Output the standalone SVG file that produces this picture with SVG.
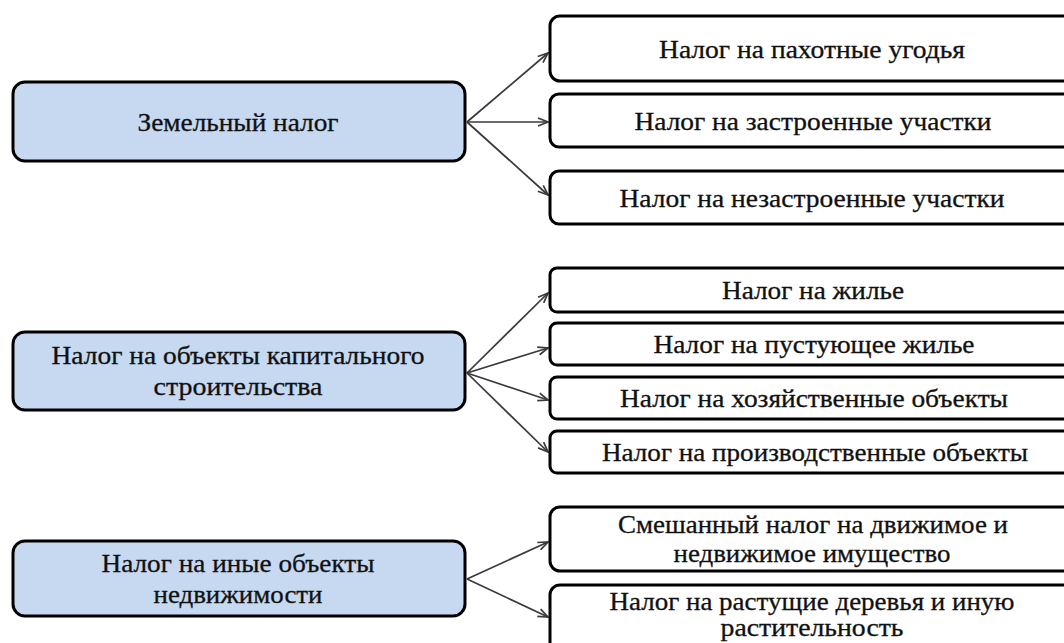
<svg xmlns="http://www.w3.org/2000/svg" width="1064" height="643" viewBox="0 0 1064 643">
<style>
.main{fill:#C6D9F1;stroke:#000;stroke-width:3}
.sub{fill:#fff;stroke:#000;stroke-width:3}
.t{font-family:"Liberation Serif","DejaVu Serif",serif;font-size:25px;fill:#111;stroke:#111;stroke-width:0.3;text-anchor:middle}
.c{stroke:#3a3a3a;stroke-width:1.7;fill:none}
</style>
<defs>
<marker id="ah" markerUnits="userSpaceOnUse" markerWidth="12" markerHeight="10" refX="11" refY="5" orient="auto">
<path d="M1,1 L11,5 L1,9" fill="none" stroke="#3a3a3a" stroke-width="1.7"/>
</marker>
</defs>
<rect width="1064" height="643" fill="#fff"/>
<g id="connectors">
<line class="c" x1="467" y1="122" x2="548" y2="53" marker-end="url(#ah)"/>
<line class="c" x1="467" y1="122" x2="548" y2="122" marker-end="url(#ah)"/>
<line class="c" x1="467" y1="122" x2="548" y2="195" marker-end="url(#ah)"/>
<line class="c" x1="467" y1="373" x2="548" y2="293" marker-end="url(#ah)"/>
<line class="c" x1="467" y1="373" x2="548" y2="348" marker-end="url(#ah)"/>
<line class="c" x1="467" y1="373" x2="548" y2="400" marker-end="url(#ah)"/>
<line class="c" x1="467" y1="373" x2="548" y2="452" marker-end="url(#ah)"/>
<line class="c" x1="467" y1="579" x2="548" y2="542" marker-end="url(#ah)"/>
<line class="c" x1="467" y1="579" x2="548" y2="617" marker-end="url(#ah)"/>
</g>
<g id="n1">
<rect class="main" x="13" y="82" width="452" height="79" rx="12"/>
<text class="t" x="238" y="131" textLength="201" lengthAdjust="spacingAndGlyphs">Земельный налог</text>
</g>
<g id="n1a">
<rect class="sub" x="550" y="16" width="528" height="65" rx="10"/>
<text class="t" x="812" y="58" textLength="306" lengthAdjust="spacingAndGlyphs">Налог на пахотные угодья</text>
</g>
<g id="n1b">
<rect class="sub" x="550" y="94" width="528" height="53" rx="9"/>
<text class="t" x="813" y="130" textLength="357" lengthAdjust="spacingAndGlyphs">Налог на застроенные участки</text>
</g>
<g id="n1c">
<rect class="sub" x="550" y="171" width="528" height="53" rx="9"/>
<text class="t" x="812" y="207" textLength="385" lengthAdjust="spacingAndGlyphs">Налог на незастроенные участки</text>
</g>
<g id="n2">
<rect class="main" x="13" y="332" width="452" height="78" rx="12"/>
<text class="t" x="238" y="364" textLength="373" lengthAdjust="spacingAndGlyphs">Налог на объекты капитального</text>
<text class="t" x="238" y="395" textLength="169" lengthAdjust="spacingAndGlyphs">строительства</text>
</g>
<g id="n2a">
<rect class="sub" x="550" y="268" width="528" height="44" rx="7"/>
<text class="t" x="813" y="299" textLength="182" lengthAdjust="spacingAndGlyphs">Налог на жилье</text>
</g>
<g id="n2b">
<rect class="sub" x="550" y="323" width="528" height="42" rx="7"/>
<text class="t" x="814" y="353" textLength="321" lengthAdjust="spacingAndGlyphs">Налог на пустующее жилье</text>
</g>
<g id="n2c">
<rect class="sub" x="550" y="377" width="528" height="42" rx="7"/>
<text class="t" x="814" y="407" textLength="388" lengthAdjust="spacingAndGlyphs">Налог на хозяйственные объекты</text>
</g>
<g id="n2d">
<rect class="sub" x="550" y="431" width="528" height="42" rx="7"/>
<text class="t" x="815" y="461" textLength="426" lengthAdjust="spacingAndGlyphs">Налог на производственные объекты</text>
</g>
<g id="n3">
<rect class="main" x="13" y="541" width="452" height="75" rx="12"/>
<text class="t" x="238" y="572" textLength="273" lengthAdjust="spacingAndGlyphs">Налог на иные объекты</text>
<text class="t" x="238" y="603" textLength="169" lengthAdjust="spacingAndGlyphs">недвижимости</text>
</g>
<g id="n3a">
<rect class="sub" x="550" y="507" width="528" height="64" rx="10"/>
<text class="t" x="813" y="533" textLength="390" lengthAdjust="spacingAndGlyphs">Смешанный налог на движимое и</text>
<text class="t" x="812" y="562" textLength="277" lengthAdjust="spacingAndGlyphs">недвижимое имущество</text>
</g>
<g id="n3b">
<rect class="sub" x="550" y="585" width="528" height="70" rx="10"/>
<text class="t" x="812" y="610" textLength="405" lengthAdjust="spacingAndGlyphs">Налог на растущие деревья и иную</text>
<text class="t" x="812" y="636" textLength="183" lengthAdjust="spacingAndGlyphs">растительность</text>
</g>
</svg>
